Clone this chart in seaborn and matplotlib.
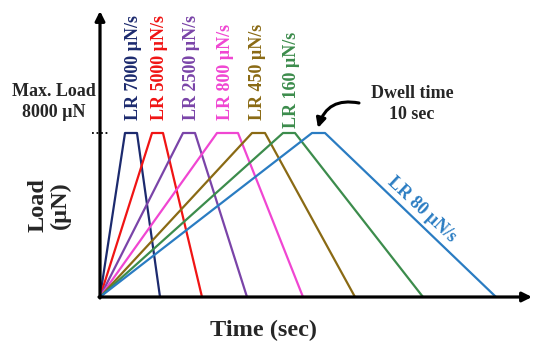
import numpy as np
import pandas as pd
import matplotlib.pyplot as plt
import seaborn as sns

# schematic load functions: rise -> dwell -> unload (time in arbitrary units)
rates = ['7000', '5000', '2500', '800', '450', '160', '80']
rise_end = [25, 52, 83, 117, 152, 183, 212]
hold_end = [37, 63, 95, 138, 165, 195, 225]
unload_end = [60, 102, 147, 203, 255, 323, 396]
max_load = 8000
colors = ['#1c2a6e', '#f01414', '#7a44a8', '#f046d2', '#8a6a14', '#3c8c4c', '#2a7cc2']

rows = []
for r, t1, t2, t3 in zip(rates, rise_end, hold_end, unload_end):
    for t, l in zip([0, t1, t2, t3], [0, max_load, max_load, 0]):
        rows.append({'rate': r, 'time': t, 'load': l})
df = pd.DataFrame(rows)

sns.set_style('white')
plt.rcParams['font.family'] = ['Liberation Serif', 'DejaVu Serif']
plt.rcParams['font.weight'] = 'bold'

fig = plt.figure(figsize=(5.33, 3.45), dpi=100)
ax = fig.add_axes([0, 0, 1, 1])
sns.lineplot(data=df, x='time', y='load', hue='rate', palette=colors,
             sort=False, estimator=None, lw=1.6, legend=False, ax=ax)

k = max_load / 164
ax.set_xlim(-100, 433)
ax.set_ylim(-48 * k, 297 * k)
ax.axis('off')

# axes drawn as arrows
arr = dict(arrowstyle='-|>', lw=2.3, color='k', mutation_scale=14, shrinkA=0, shrinkB=0)
ax.annotate('', xy=(0, 286 * k), xytext=(0, -1 * k), arrowprops=arr)
ax.annotate('', xy=(432, 0), xytext=(-1, 0), arrowprops=arr)
ax.hlines(max_load, -8, 8, colors='k', linestyles=(0, (1, 1.5)), lw=1.3)

# rate labels
shift = [2, 2.5, 3, -2.5, -0.5, 3]
for r, t1, t2, c, s in zip(rates[:-1], rise_end, hold_end, colors, shift):
    yb = 8250 if r == '160' else 8630
    ax.text((t1 + t2) / 2 + s, yb, f'LR {r} µN/s', rotation=90, ha='center', va='bottom',
            color=c, fontsize=13, fontweight='bold')
ax.text(322, 87 * k, 'LR 80 µN/s', rotation=-43, ha='center', va='center',
        color=colors[-1], fontsize=13, fontweight='bold')

ax.text(-46, 195 * k, 'Max. Load\n8000 µN', ha='center', va='center', fontsize=13,
        fontweight='bold', linespacing=1.3)
ax.text(312, 193 * k, 'Dwell time\n10 sec', ha='center', va='center', fontsize=13,
        fontweight='bold', linespacing=1.3)
ax.annotate('', xy=(218, 169 * k), xytext=(259, 194 * k),
            arrowprops=dict(arrowstyle='-|>', lw=2.2, color='k', mutation_scale=14,
                            connectionstyle='arc3,rad=0.45', shrinkA=0, shrinkB=0))

ax.text(-51, 92 * k, 'Load\n(µN)', rotation=90, ha='center', va='center', fontsize=17.5,
        fontweight='bold', linespacing=1.05)
ax.text(163, -33 * k, 'Time (sec)', ha='center', va='center', fontsize=17.5, fontweight='bold')

plt.savefig('out.png', dpi=100)
